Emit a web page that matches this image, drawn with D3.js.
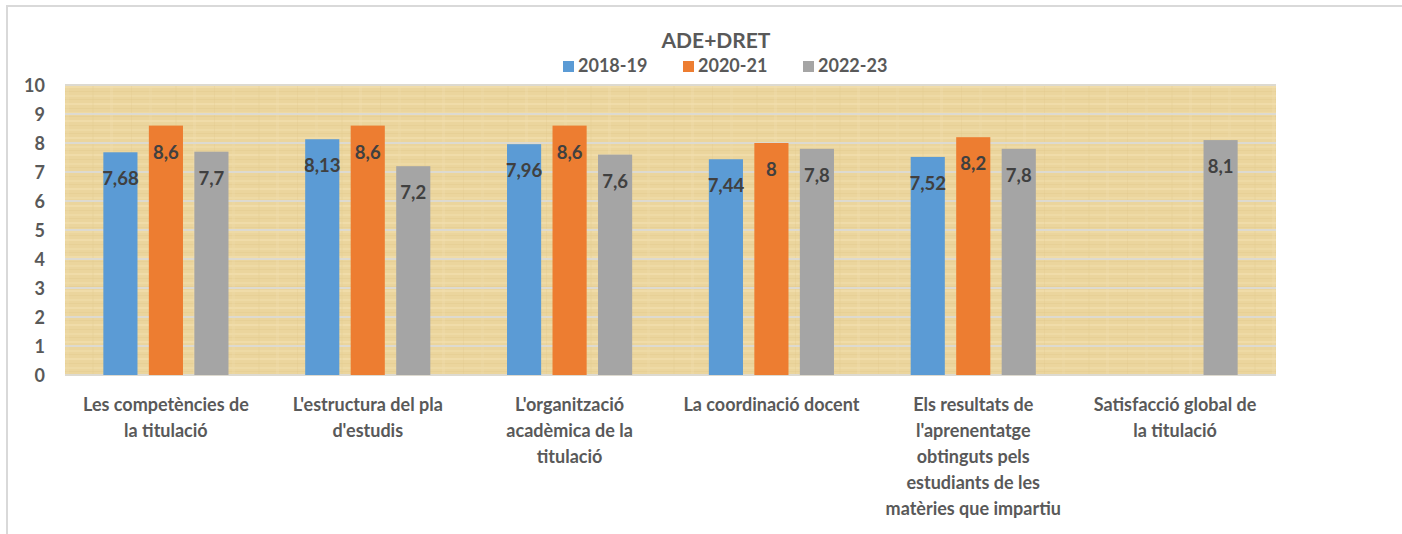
<!DOCTYPE html>
<html><head><meta charset="utf-8">
<script src="https://cdn.jsdelivr.net/npm/d3@7"></script>
<style>html,body{margin:0;padding:0;background:#fff;}svg{display:block;}</style>
</head><body>
<svg id="chart" width="1402" height="534"></svg>
<script>
const categories = [
  ["Les competències de", "la titulació"],
  ["L'estructura del pla", "d'estudis"],
  ["L'organització", "acadèmica de la", "titulació"],
  ["La coordinació docent"],
  ["Els resultats de", "l'aprenentatge", "obtinguts pels", "estudiants de les", "matèries que impartiu"],
  ["Satisfacció global de", "la titulació"]
];
const seriesNames = ["2018-19", "2020-21", "2022-23"];
const values2018 = [7.68, 8.13, 7.96, 7.44, 7.52, null];
const values2020 = [8.6, 8.6, 8.6, 8, 8.2, null];
const values2022 = [7.7, 7.2, 7.6, 7.8, 7.8, 8.1];
const labels2018 = ["7,68", "8,13", "7,96", "7,44", "7,52", ""];
const labels2020 = ["8,6", "8,6", "8,6", "8", "8,2", ""];
const labels2022 = ["7,7", "7,2", "7,6", "7,8", "7,8", "8,1"];
const yTicks = [0,1,2,3,4,5,6,7,8,9,10];
const colors = ["#5B9BD5", "#ED7D31", "#A5A5A5"];

const series = [
  {name: seriesNames[0], values: values2018, labels: labels2018, color: colors[0]},
  {name: seriesNames[1], values: values2020, labels: labels2020, color: colors[1]},
  {name: seriesNames[2], values: values2022, labels: labels2022, color: colors[2]}
];

const svg = d3.select("#chart");
const FONT = "Lato, 'Open Sans', sans-serif";
const plot = {left: 65, right: 1276, top: 85, bottom: 375};

// outer frame
svg.append("path").attr("d", "M7,534 L7,6 L1402,6").attr("fill", "none")
  .attr("stroke", "#d9d9d9").attr("stroke-width", 2);

const x0 = d3.scaleBand().domain(d3.range(categories.length)).range([plot.left, plot.right]).padding(0);
const y = d3.scaleLinear().domain([0, 10]).range([plot.bottom, plot.top]);
const bw = x0.bandwidth();
const x1 = d3.scaleBand().domain(d3.range(3)).range([bw*0.19, bw*0.81]).paddingInner(0.25);

// papyrus-like texture (decorative)
const defs = svg.append("defs");
const pat = defs.append("pattern").attr("id", "papyrus").attr("patternUnits", "userSpaceOnUse")
  .attr("width", 83).attr("height", 17);
pat.append("rect").attr("width", 83).attr("height", 17).attr("fill", "#EBD59D");
const streaks = [
  [0,1,83,2,"#F3E2B2",0.55],[0,6,83,1,"#E3CA8F",0.45],[0,10,83,2,"#F1DFAD",0.5],[0,14,83,1,"#E2C88C",0.4],
  [9,0,2,17,"#E4CB90",0.25],[27,0,3,17,"#F2E0AF",0.3],[48,0,1,17,"#DFC588",0.25],[66,0,3,17,"#F0DDAB",0.3]
];
streaks.forEach(s => pat.append("rect").attr("x", s[0]).attr("y", s[1]).attr("width", s[2]).attr("height", s[3])
  .attr("fill", s[4]).attr("opacity", s[5]));

svg.append("rect").attr("x", plot.left).attr("y", plot.top)
  .attr("width", plot.right - plot.left).attr("height", plot.bottom - plot.top)
  .attr("fill", "url(#papyrus)");

// gridlines
svg.append("g").selectAll("line").data(yTicks).join("line")
  .attr("x1", plot.left).attr("x2", plot.right)
  .attr("y1", d => y(d)).attr("y2", d => y(d))
  .attr("stroke", "#DDDAD0").attr("stroke-width", 2);

// y axis
const yAxis = d3.axisLeft(y).tickValues(yTicks).tickSize(0).tickPadding(0).tickFormat(d3.format("d"));
const yg = svg.append("g").attr("transform", `translate(45,0)`).call(yAxis);
yg.select(".domain").remove();
yg.selectAll("text").attr("font-family", FONT).attr("font-weight", "bold").attr("font-size", 18)
  .attr("fill", "#595959").attr("dy", "0.35em");

// bars
const groups = svg.append("g").selectAll("g").data(series).join("g");
groups.each(function(s, si) {
  const g = d3.select(this);
  const data = s.values.map((v, i) => ({v, i, label: s.labels[i]})).filter(d => d.v != null);
  g.selectAll("rect").data(data).join("rect")
    .attr("x", d => x0(d.i) + x1(si)).attr("width", x1.bandwidth())
    .attr("y", d => y(d.v)).attr("height", d => y(0) - y(d.v))
    .attr("fill", s.color);
  g.selectAll("text").data(data).join("text")
    .attr("x", d => x0(d.i) + x1(si) + x1.bandwidth()/2)
    .attr("y", d => y(d.v) + 33)
    .attr("text-anchor", "middle")
    .attr("font-family", FONT).attr("font-weight", "bold").attr("font-size", 18.5)
    .attr("fill", "#404040").text(d => d.label);
});

// category labels
const xg = svg.append("g");
categories.forEach((lines, i) => {
  const t = xg.append("text").attr("text-anchor", "middle")
    .attr("font-family", FONT).attr("font-weight", "bold").attr("font-size", 18).attr("fill", "#595959");
  lines.forEach((ln, j) => {
    t.append("tspan").attr("x", x0(i) + bw/2).attr("y", 411 + j*26).text(ln);
  });
});

// title
svg.append("text").attr("x", 716).attr("y", 48).attr("text-anchor", "middle")
  .attr("font-family", FONT).attr("font-weight", "bold").attr("font-size", 21).attr("fill", "#595959")
  .text("ADE+DRET");

// legend
const legendX = [563, 683, 803];
const lg = svg.append("g").selectAll("g").data(series).join("g")
  .attr("transform", (d, i) => `translate(${legendX[i]},61)`);
lg.append("rect").attr("width", 11).attr("height", 11).attr("fill", d => d.color);
lg.append("text").attr("x", 15).attr("y", 11).attr("font-family", FONT).attr("font-weight", "bold")
  .attr("font-size", 18).attr("fill", "#595959").text(d => d.name);
</script>
</body></html>
